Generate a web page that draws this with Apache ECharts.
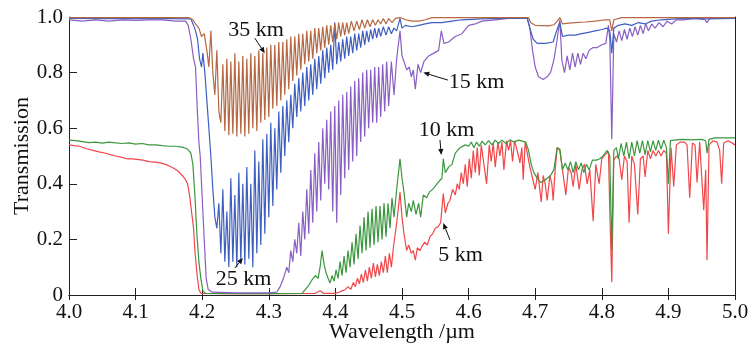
<!DOCTYPE html>
<html><head><meta charset="utf-8">
<script src="https://cdn.jsdelivr.net/npm/echarts@6/dist/echarts.min.js"></script>
<style>html,body{margin:0;padding:0;background:#fff}#c{width:749px;height:346px}</style>
</head><body><div id="c"></div>
<script>
// Wavelength (µm) / transmission pairs
const km35 = [[4.000,0.998],[4.100,0.998],[4.180,0.998],[4.186,0.99],[4.190,0.975],[4.195,0.96],[4.199,0.93],[4.203,0.94],[4.207,0.88],[4.210,0.82],[4.213,0.95],[4.216,0.80],[4.219,0.72],[4.222,0.88],[4.225,0.66],[4.228,0.62],[4.231,0.83],[4.234,0.59],[4.237,0.85],[4.240,0.575],[4.243,0.84],[4.246,0.58],[4.249,0.87],[4.252,0.57],[4.255,0.84],[4.258,0.58],[4.261,0.86],[4.264,0.57],[4.267,0.85],[4.270,0.58],[4.273,0.87],[4.276,0.60],[4.279,0.86],[4.282,0.59],[4.285,0.88],[4.288,0.62],[4.291,0.87],[4.294,0.63],[4.297,0.89],[4.300,0.64],[4.303,0.90],[4.306,0.67],[4.309,0.90],[4.312,0.68],[4.315,0.91],[4.318,0.70],[4.321,0.91],[4.324,0.72],[4.327,0.92],[4.330,0.74],[4.333,0.93],[4.336,0.77],[4.339,0.93],[4.342,0.79],[4.345,0.94],[4.348,0.81],[4.351,0.94],[4.354,0.83],[4.357,0.95],[4.360,0.84],[4.363,0.95],[4.366,0.85],[4.369,0.96],[4.372,0.87],[4.375,0.96],[4.378,0.88],[4.381,0.965],[4.384,0.89],[4.387,0.97],[4.390,0.90],[4.393,0.97],[4.396,0.91],[4.399,0.975],[4.402,0.92],[4.405,0.98],[4.408,0.93],[4.411,0.98],[4.414,0.935],[4.417,0.98],[4.420,0.94],[4.424,0.985],[4.428,0.95],[4.432,0.985],[4.436,0.955],[4.440,0.99],[4.444,0.96],[4.448,0.99],[4.452,0.965],[4.456,0.99],[4.460,0.97],[4.464,0.99],[4.468,0.975],[4.472,0.995],[4.476,0.975],[4.480,0.995],[4.485,0.98],[4.490,0.995],[4.497,0.998],[4.505,0.99],[4.515,0.985],[4.525,0.985],[4.535,0.99],[4.545,0.998],[4.690,0.998],[4.693,0.98],[4.700,0.97],[4.720,0.968],[4.728,0.972],[4.733,0.985],[4.737,0.998],[4.741,0.975],[4.750,0.978],[4.760,0.98],[4.775,0.982],[4.790,0.985],[4.805,0.99],[4.812,0.99],[4.815,0.95],[4.818,0.99],[4.830,0.998],[5.000,0.998]];

const km25 = [[4.000,0.995],[4.050,0.994],[4.100,0.995],[4.150,0.994],[4.183,0.993],[4.187,0.97],[4.190,0.95],[4.193,0.92],[4.196,0.85],[4.199,0.82],[4.201,0.87],[4.204,0.80],[4.207,0.70],[4.210,0.60],[4.213,0.50],[4.216,0.38],[4.219,0.28],[4.222,0.24],[4.225,0.33],[4.228,0.15],[4.231,0.38],[4.234,0.12],[4.237,0.30],[4.240,0.10],[4.243,0.42],[4.246,0.12],[4.249,0.36],[4.252,0.10],[4.255,0.44],[4.258,0.12],[4.261,0.40],[4.264,0.11],[4.267,0.46],[4.270,0.13],[4.273,0.40],[4.276,0.10],[4.279,0.52],[4.282,0.15],[4.285,0.48],[4.288,0.18],[4.291,0.56],[4.294,0.22],[4.297,0.58],[4.300,0.28],[4.303,0.62],[4.306,0.32],[4.309,0.60],[4.312,0.38],[4.315,0.66],[4.318,0.44],[4.321,0.68],[4.324,0.50],[4.327,0.70],[4.330,0.55],[4.333,0.72],[4.336,0.60],[4.339,0.76],[4.342,0.64],[4.345,0.78],[4.348,0.66],[4.351,0.80],[4.354,0.68],[4.357,0.82],[4.360,0.70],[4.363,0.83],[4.366,0.72],[4.369,0.85],[4.372,0.74],[4.375,0.86],[4.378,0.76],[4.381,0.88],[4.384,0.78],[4.387,0.89],[4.390,0.80],[4.393,0.90],[4.396,0.81],[4.399,0.98],[4.402,0.83],[4.405,0.91],[4.408,0.84],[4.411,0.92],[4.414,0.85],[4.417,0.93],[4.420,0.86],[4.423,0.93],[4.426,0.87],[4.429,0.94],[4.432,0.88],[4.435,0.94],[4.438,0.89],[4.441,0.95],[4.444,0.90],[4.447,0.95],[4.450,0.91],[4.453,0.955],[4.456,0.92],[4.459,0.96],[4.462,0.925],[4.465,0.96],[4.468,0.93],[4.472,0.965],[4.476,0.935],[4.480,0.965],[4.484,0.94],[4.488,0.96],[4.492,0.95],[4.497,0.995],[4.500,0.96],[4.505,0.97],[4.515,0.965],[4.525,0.97],[4.535,0.975],[4.545,0.98],[4.560,0.98],[4.575,0.985],[4.590,0.99],[4.620,0.993],[4.650,0.995],[4.688,0.995],[4.692,0.96],[4.697,0.92],[4.703,0.905],[4.715,0.905],[4.727,0.91],[4.732,0.95],[4.737,0.98],[4.741,0.93],[4.750,0.935],[4.760,0.935],[4.770,0.94],[4.780,0.945],[4.790,0.95],[4.800,0.955],[4.808,0.96],[4.812,0.95],[4.815,0.87],[4.818,0.96],[4.825,0.97],[4.835,0.975],[4.845,0.97],[4.855,0.98],[4.865,0.975],[4.875,0.985],[4.890,0.99],[4.910,0.993],[4.930,0.995],[4.960,0.993],[5.000,0.995]];

const km15 = [[4.000,0.99],[4.020,0.985],[4.040,0.99],[4.060,0.985],[4.080,0.99],[4.100,0.988],[4.120,0.99],[4.140,0.99],[4.160,0.985],[4.175,0.985],[4.179,0.97],[4.183,0.92],[4.187,0.85],[4.190,0.82],[4.192,0.70],[4.195,0.55],[4.197,0.50],[4.200,0.35],[4.203,0.20],[4.206,0.06],[4.209,0.02],[4.215,0.01],[4.250,0.008],[4.300,0.008],[4.312,0.01],[4.317,0.03],[4.322,0.06],[4.327,0.10],[4.330,0.08],[4.333,0.16],[4.336,0.12],[4.339,0.20],[4.342,0.15],[4.345,0.26],[4.348,0.14],[4.351,0.30],[4.354,0.20],[4.357,0.38],[4.360,0.22],[4.363,0.45],[4.366,0.26],[4.369,0.51],[4.372,0.30],[4.375,0.55],[4.378,0.34],[4.381,0.60],[4.384,0.40],[4.387,0.63],[4.390,0.38],[4.393,0.66],[4.396,0.30],[4.399,0.68],[4.402,0.26],[4.405,0.70],[4.408,0.36],[4.411,0.72],[4.414,0.42],[4.417,0.73],[4.420,0.45],[4.423,0.75],[4.426,0.48],[4.429,0.77],[4.432,0.50],[4.435,0.78],[4.438,0.55],[4.441,0.80],[4.444,0.57],[4.447,0.81],[4.450,0.60],[4.453,0.81],[4.456,0.62],[4.459,0.82],[4.462,0.62],[4.465,0.82],[4.468,0.64],[4.471,0.83],[4.474,0.66],[4.477,0.84],[4.480,0.68],[4.484,0.84],[4.488,0.72],[4.492,0.85],[4.497,0.95],[4.500,0.86],[4.503,0.84],[4.507,0.81],[4.511,0.82],[4.514,0.785],[4.517,0.81],[4.520,0.74],[4.524,0.83],[4.528,0.80],[4.533,0.84],[4.540,0.86],[4.548,0.87],[4.555,0.88],[4.559,0.95],[4.563,0.905],[4.570,0.91],[4.580,0.93],[4.590,0.94],[4.600,0.97],[4.610,0.975],[4.620,0.985],[4.640,0.99],[4.660,0.995],[4.688,0.997],[4.692,0.96],[4.696,0.88],[4.700,0.82],[4.705,0.785],[4.712,0.775],[4.718,0.785],[4.723,0.80],[4.728,0.845],[4.733,0.92],[4.737,0.99],[4.740,0.845],[4.744,0.80],[4.748,0.86],[4.752,0.81],[4.756,0.87],[4.760,0.82],[4.764,0.87],[4.768,0.83],[4.772,0.87],[4.776,0.85],[4.781,0.88],[4.787,0.89],[4.793,0.89],[4.800,0.90],[4.806,0.905],[4.810,0.97],[4.812,0.92],[4.815,0.56],[4.818,0.94],[4.822,0.91],[4.826,0.95],[4.830,0.915],[4.834,0.955],[4.838,0.92],[4.842,0.96],[4.846,0.93],[4.850,0.965],[4.854,0.935],[4.858,0.97],[4.862,0.94],[4.866,0.975],[4.870,0.95],[4.875,0.975],[4.880,0.96],[4.886,0.98],[4.892,0.965],[4.898,0.985],[4.905,0.975],[4.912,0.99],[4.925,0.99],[4.940,0.995],[4.955,0.99],[4.958,0.98],[4.962,0.995],[5.000,0.998]];

const km10 = [[4.000,0.557],[4.010,0.555],[4.020,0.552],[4.030,0.548],[4.040,0.55],[4.050,0.546],[4.060,0.55],[4.070,0.547],[4.080,0.545],[4.090,0.547],[4.100,0.543],[4.110,0.545],[4.120,0.54],[4.130,0.54],[4.140,0.537],[4.150,0.535],[4.160,0.535],[4.170,0.532],[4.178,0.525],[4.183,0.51],[4.186,0.47],[4.189,0.36],[4.192,0.22],[4.195,0.12],[4.198,0.06],[4.201,0.015],[4.205,0.006],[4.250,0.005],[4.300,0.005],[4.350,0.006],[4.355,0.02],[4.360,0.035],[4.365,0.055],[4.370,0.07],[4.374,0.06],[4.377,0.10],[4.380,0.16],[4.383,0.11],[4.386,0.08],[4.389,0.06],[4.392,0.043],[4.395,0.07],[4.398,0.05],[4.401,0.09],[4.404,0.06],[4.407,0.12],[4.410,0.07],[4.413,0.14],[4.416,0.08],[4.419,0.16],[4.422,0.10],[4.425,0.19],[4.428,0.11],[4.431,0.22],[4.434,0.13],[4.437,0.25],[4.440,0.15],[4.443,0.28],[4.446,0.16],[4.449,0.30],[4.452,0.17],[4.455,0.31],[4.458,0.18],[4.461,0.32],[4.464,0.19],[4.467,0.32],[4.470,0.20],[4.473,0.33],[4.476,0.21],[4.479,0.33],[4.482,0.24],[4.485,0.35],[4.488,0.28],[4.492,0.38],[4.497,0.49],[4.500,0.42],[4.503,0.37],[4.507,0.28],[4.510,0.33],[4.514,0.30],[4.517,0.34],[4.521,0.29],[4.525,0.33],[4.528,0.28],[4.532,0.36],[4.537,0.35],[4.541,0.37],[4.546,0.38],[4.551,0.395],[4.556,0.41],[4.560,0.42],[4.562,0.49],[4.565,0.44],[4.570,0.46],[4.575,0.47],[4.580,0.51],[4.587,0.53],[4.595,0.54],[4.600,0.535],[4.604,0.55],[4.608,0.53],[4.612,0.55],[4.616,0.535],[4.620,0.553],[4.625,0.54],[4.630,0.555],[4.635,0.54],[4.640,0.557],[4.645,0.545],[4.650,0.557],[4.656,0.545],[4.662,0.558],[4.668,0.55],[4.675,0.557],[4.686,0.55],[4.690,0.52],[4.694,0.47],[4.698,0.44],[4.703,0.42],[4.708,0.405],[4.713,0.41],[4.718,0.42],[4.723,0.43],[4.728,0.45],[4.733,0.53],[4.737,0.525],[4.741,0.45],[4.745,0.475],[4.749,0.45],[4.753,0.48],[4.757,0.44],[4.761,0.48],[4.765,0.45],[4.769,0.475],[4.773,0.44],[4.777,0.47],[4.781,0.45],[4.786,0.485],[4.792,0.485],[4.797,0.49],[4.802,0.50],[4.808,0.52],[4.812,0.50],[4.815,0.16],[4.818,0.52],[4.822,0.53],[4.825,0.49],[4.829,0.545],[4.833,0.50],[4.837,0.55],[4.841,0.49],[4.845,0.55],[4.849,0.50],[4.853,0.555],[4.857,0.51],[4.861,0.555],[4.865,0.505],[4.869,0.555],[4.873,0.515],[4.877,0.555],[4.881,0.52],[4.885,0.557],[4.889,0.525],[4.893,0.557],[4.897,0.53],[4.900,0.40],[4.903,0.555],[4.908,0.557],[4.920,0.56],[4.935,0.558],[4.950,0.56],[4.956,0.555],[4.958,0.51],[4.961,0.56],[4.970,0.565],[4.985,0.565],[5.000,0.565]];

const km5 = [[4.000,0.54],[4.008,0.537],[4.016,0.535],[4.025,0.527],[4.036,0.52],[4.045,0.515],[4.055,0.51],[4.062,0.505],[4.070,0.50],[4.080,0.495],[4.087,0.49],[4.095,0.49],[4.105,0.487],[4.111,0.485],[4.120,0.48],[4.130,0.478],[4.137,0.475],[4.145,0.47],[4.152,0.462],[4.158,0.455],[4.164,0.445],[4.170,0.43],[4.175,0.415],[4.178,0.40],[4.181,0.36],[4.184,0.30],[4.187,0.24],[4.189,0.16],[4.192,0.08],[4.195,0.02],[4.198,0.006],[4.250,0.005],[4.300,0.005],[4.370,0.006],[4.377,0.015],[4.382,0.006],[4.400,0.006],[4.405,0.01],[4.410,0.015],[4.415,0.02],[4.419,0.03],[4.423,0.02],[4.427,0.045],[4.430,0.03],[4.433,0.06],[4.436,0.04],[4.439,0.075],[4.442,0.045],[4.445,0.09],[4.448,0.05],[4.451,0.10],[4.454,0.06],[4.457,0.115],[4.460,0.065],[4.463,0.11],[4.466,0.07],[4.469,0.12],[4.472,0.08],[4.475,0.14],[4.478,0.08],[4.481,0.15],[4.484,0.10],[4.487,0.17],[4.491,0.24],[4.494,0.30],[4.497,0.37],[4.500,0.28],[4.503,0.22],[4.507,0.16],[4.510,0.18],[4.514,0.15],[4.517,0.16],[4.520,0.125],[4.523,0.17],[4.527,0.16],[4.530,0.175],[4.534,0.19],[4.538,0.18],[4.542,0.21],[4.546,0.22],[4.550,0.24],[4.554,0.245],[4.558,0.26],[4.562,0.365],[4.565,0.295],[4.569,0.33],[4.572,0.34],[4.576,0.38],[4.580,0.36],[4.583,0.40],[4.586,0.38],[4.589,0.44],[4.592,0.40],[4.595,0.47],[4.598,0.39],[4.601,0.49],[4.604,0.42],[4.607,0.52],[4.610,0.44],[4.613,0.53],[4.616,0.43],[4.619,0.54],[4.623,0.47],[4.627,0.40],[4.631,0.54],[4.634,0.48],[4.637,0.547],[4.640,0.46],[4.644,0.55],[4.647,0.50],[4.650,0.55],[4.653,0.45],[4.657,0.555],[4.660,0.52],[4.663,0.555],[4.666,0.48],[4.669,0.555],[4.672,0.557],[4.675,0.50],[4.677,0.475],[4.680,0.53],[4.682,0.415],[4.685,0.55],[4.688,0.55],[4.692,0.46],[4.696,0.42],[4.700,0.38],[4.704,0.44],[4.709,0.335],[4.712,0.43],[4.715,0.40],[4.718,0.34],[4.722,0.43],[4.725,0.40],[4.727,0.34],[4.730,0.45],[4.733,0.53],[4.737,0.52],[4.741,0.45],[4.746,0.36],[4.750,0.46],[4.754,0.44],[4.757,0.39],[4.761,0.47],[4.766,0.38],[4.770,0.45],[4.774,0.47],[4.778,0.40],[4.782,0.45],[4.787,0.265],[4.791,0.47],[4.796,0.40],[4.800,0.49],[4.805,0.505],[4.810,0.515],[4.812,0.30],[4.815,0.047],[4.818,0.485],[4.822,0.50],[4.826,0.49],[4.830,0.415],[4.834,0.50],[4.838,0.48],[4.841,0.26],[4.845,0.50],[4.849,0.47],[4.854,0.29],[4.858,0.49],[4.862,0.50],[4.865,0.425],[4.869,0.52],[4.873,0.49],[4.877,0.52],[4.881,0.50],[4.885,0.52],[4.889,0.50],[4.893,0.52],[4.897,0.51],[4.900,0.22],[4.904,0.53],[4.908,0.39],[4.912,0.54],[4.918,0.55],[4.924,0.55],[4.928,0.54],[4.932,0.35],[4.936,0.547],[4.940,0.54],[4.943,0.405],[4.947,0.55],[4.950,0.55],[4.953,0.305],[4.956,0.45],[4.958,0.125],[4.961,0.54],[4.967,0.555],[4.973,0.55],[4.977,0.52],[4.980,0.40],[4.983,0.547],[4.990,0.555],[5.000,0.54]];

const seriesNames = ['5 km', '10 km', '15 km', '25 km', '35 km'];
const xTicks = [4.0, 4.1, 4.2, 4.3, 4.4, 4.5, 4.6, 4.7, 4.8, 4.9, 5.0];
const yTicks = [0, 0.2, 0.4, 0.6, 0.8, 1.0];
// annotation: label text position and arrow [from, to] in data coordinates
const annLabels = ['35 km', '25 km', '15 km', '10 km', '5 km'];
const annText = [[4.281, 0.953], [4.262, 0.058], [4.612, 0.766], [4.567, 0.594], [4.588, 0.144]];
const annArrowFrom = [[4.279, 0.924], [4.249, 0.097], [4.569, 0.773], [4.557, 0.558], [4.572, 0.198]];
const annArrowTo = [[4.294, 0.87], [4.261, 0.133], [4.532, 0.80], [4.559, 0.504], [4.562, 0.259]];

const FONT = 'Liberation Serif';
const colors = { '5 km': '#f0474a', '10 km': '#3b973e', '15 km': '#8a5fc4', '25 km': '#3e5fc0', '35 km': '#b56842' };
const dataMap = { '5 km': km5, '10 km': km10, '15 km': km15, '25 km': km25, '35 km': km35 };

const chart = echarts.init(document.getElementById('c'), null, { renderer: 'canvas' });
const axisCommon = { type: 'value', axisLine: { show: true, lineStyle: { color: '#222', width: 1 } }, splitLine: { show: false } };
const option = {
  animation: false,
  backgroundColor: '#fff',
  grid: { left: 69, right: 14, top: 17, bottom: 51, containLabel: false, outerBoundsMode: 'none' },
  xAxis: [
    Object.assign({}, axisCommon, {
      position: 'bottom', min: xTicks[0], max: xTicks[xTicks.length - 1], interval: 0.1,
      axisTick: { show: true, inside: true, length: 7, lineStyle: { color: '#222' } },
      axisLabel: { show: true, margin: 7, color: '#111', fontFamily: FONT, fontSize: 21, formatter: v => v.toFixed(1) },
      name: 'Wavelength /\u00b5m', nameLocation: 'middle', nameGap: 26, nameMoveOverlap: false,
      nameTextStyle: { color: '#111', fontFamily: FONT, fontSize: 22 }
    }),
    Object.assign({}, axisCommon, {
      position: 'top', min: xTicks[0], max: xTicks[xTicks.length - 1], interval: 0.1,
      axisTick: { show: true, inside: true, length: 5, lineStyle: { color: '#222' } },
      axisLabel: { show: false }
    })
  ],
  yAxis: [
    Object.assign({}, axisCommon, {
      position: 'left', min: yTicks[0], max: yTicks[yTicks.length - 1], interval: 0.2,
      axisTick: { show: true, inside: true, length: 8, lineStyle: { color: '#222' } },
      axisLabel: { show: true, margin: 6, color: '#111', fontFamily: FONT, fontSize: 21,
        formatter: v => (v === 0 ? '0' : v.toFixed(1)) },
      name: 'Transmission', nameLocation: 'middle', nameGap: 36, nameRotate: 90, nameMoveOverlap: false,
      nameTextStyle: { color: '#111', fontFamily: FONT, fontSize: 22 }
    }),
    Object.assign({}, axisCommon, {
      position: 'right', min: 0, max: 1, interval: 0.2,
      axisTick: { show: false }, axisLabel: { show: false }
    })
  ],
  series: seriesNames.map(n => ({
    name: n, type: 'line', data: dataMap[n], showSymbol: false, symbol: 'none',
    xAxisIndex: 0, yAxisIndex: 0, clip: true,
    lineStyle: { color: colors[n], width: 1.2 }, z: 2
  }))
};
chart.setOption(option);

// annotations placed through the chart's own coordinate conversion
const graphics = [];
annLabels.forEach((txt, i) => {
  const p = chart.convertToPixel({ gridIndex: 0 }, annText[i]);
  const a = chart.convertToPixel({ gridIndex: 0 }, annArrowFrom[i]);
  const b = chart.convertToPixel({ gridIndex: 0 }, annArrowTo[i]);
  graphics.push({ type: 'text', x: p[0], y: p[1], z: 10,
    style: { text: txt, fill: '#111', font: '22px "' + FONT + '"', textAlign: 'center', textVerticalAlign: 'middle' } });
  const dx = b[0] - a[0], dy = b[1] - a[1];
  const L = Math.sqrt(dx * dx + dy * dy), ux = dx / L, uy = dy / L;
  const hl = 6, hw = 2.6;
  const bx = b[0] - ux * hl, by = b[1] - uy * hl;
  graphics.push({ type: 'line', z: 10, shape: { x1: a[0], y1: a[1], x2: bx, y2: by }, style: { stroke: '#111', lineWidth: 1 } });
  graphics.push({ type: 'polygon', z: 10, shape: { points: [[b[0], b[1]], [bx - uy * hw, by + ux * hw], [bx + uy * hw, by - ux * hw]] }, style: { fill: '#111' } });
});
chart.setOption({ graphic: graphics });
</script>
</body></html>
